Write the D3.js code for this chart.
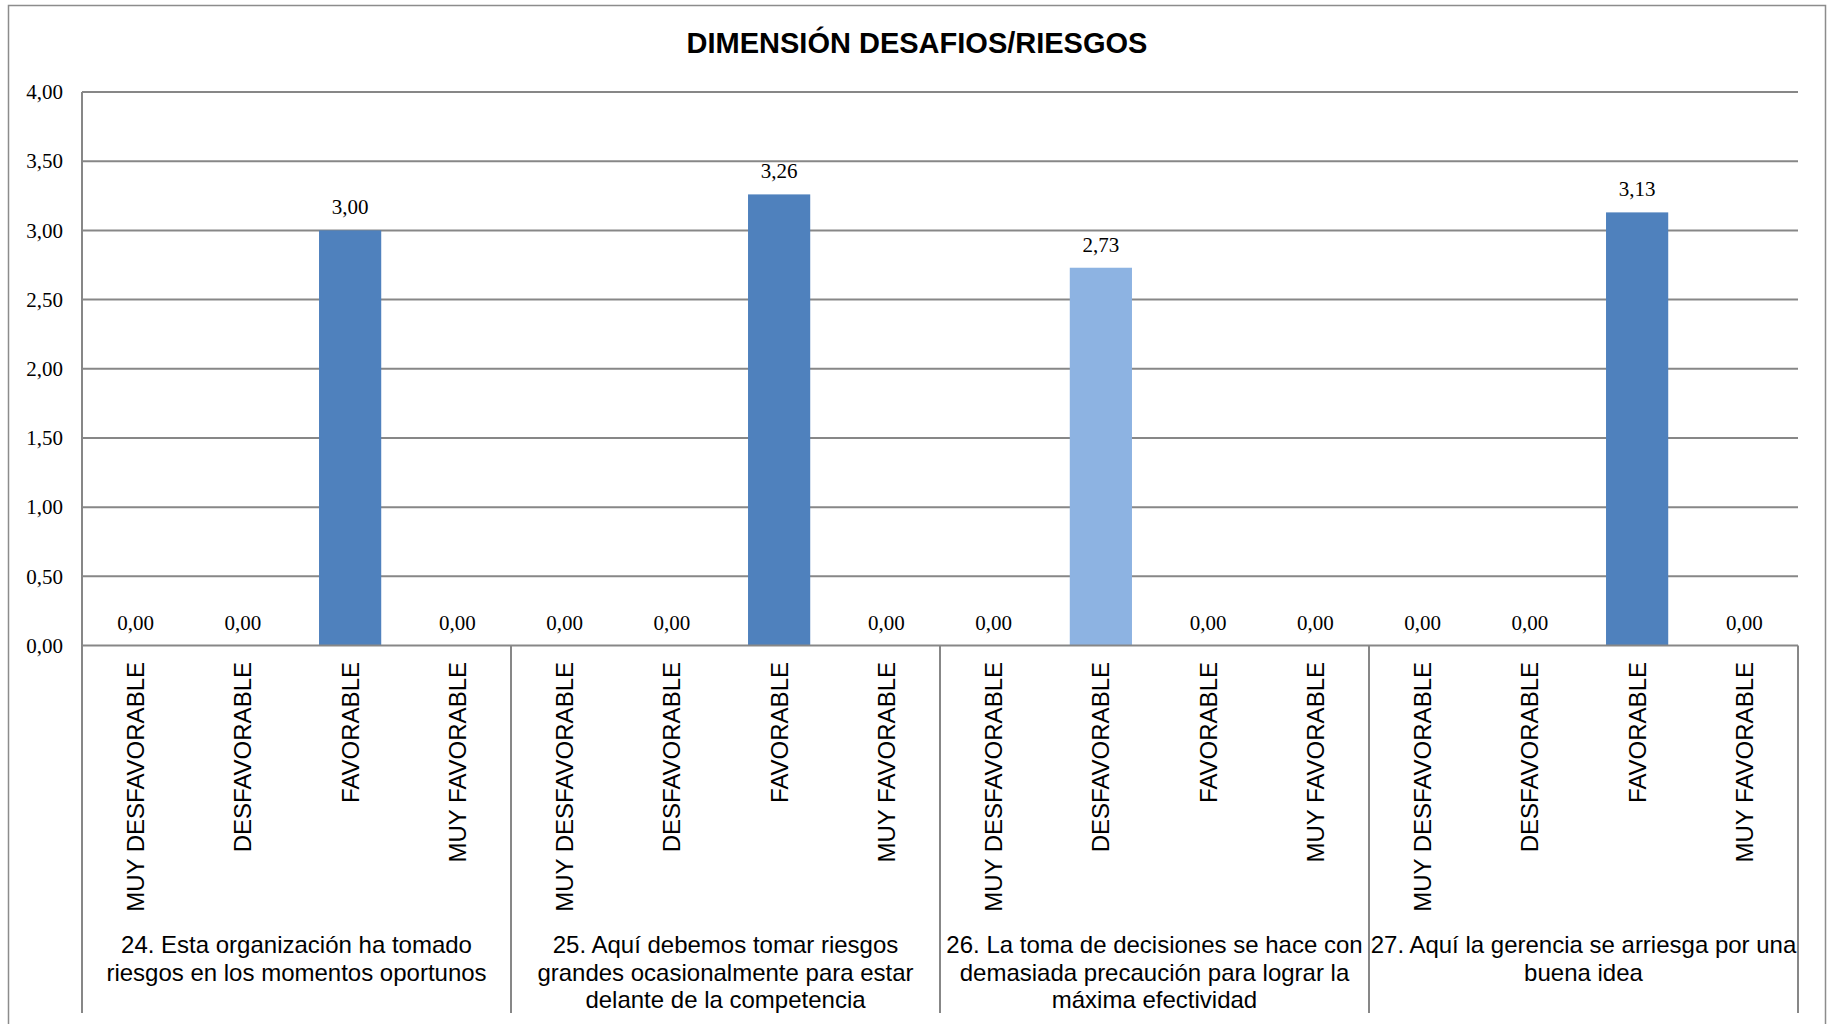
<!DOCTYPE html>
<html>
<head>
<meta charset="utf-8">
<script src="https://cdn.jsdelivr.net/npm/d3@7"></script>
<style>
  html, body { margin: 0; padding: 0; background: #fff; }
  svg { display: block; }
</style>
</head>
<body>
<div id="chart"></div>
<script>
// chart data
const chartTitle = 'DIMENSIÓN DESAFIOS/RIESGOS';
const ratings = ['MUY DESFAVORABLE', 'DESFAVORABLE', 'FAVORABLE', 'MUY FAVORABLE'];
const questions = [
  ['24. Esta organización ha tomado', 'riesgos en los momentos oportunos'],
  ['25. Aquí debemos tomar riesgos', 'grandes ocasionalmente para estar', 'delante de la competencia'],
  ['26. La toma de decisiones se hace con', 'demasiada precaución para lograr la', 'máxima efectividad'],
  ['27. Aquí la gerencia se arriesga por una', 'buena idea']
];
const values24 = [0, 0, 3.00, 0];
const values25 = [0, 0, 3.26, 0];
const values26 = [0, 2.73, 0, 0];
const values27 = [0, 0, 3.13, 0];
const yTicks = [0, 0.5, 1, 1.5, 2, 2.5, 3, 3.5, 4];

// colour per rating column
const ratingColors = ['#4F81BD', '#8DB3E2', '#4F81BD', '#4F81BD'];

const config = {
  width: 1827,
  height: 1024,
  plotLeft: 82,
  plotRight: 1798,
  plotTop: 92,
  plotBottom: 645.5,
  dividerBottom: 1013,
  grid: '#878787'
};

// flatten into one row per bar
const allValues = [values24, values25, values26, values27];
const rows = [];
allValues.forEach((vals, g) => {
  vals.forEach((v, i) => {
    rows.push({ key: `${g}-${i}`, group: g, rating: ratings[i], idx: i, value: v });
  });
});

const svg = d3.select('#chart')
  .append('svg')
  .attr('width', config.width)
  .attr('height', config.height);

// outer frame (bottom is cut off in the original)
svg.append('path')
  .attr('d', `M8.5,${config.height} V5.5 H1825.5 V${config.height}`)
  .attr('fill', 'none')
  .attr('stroke', '#8c8c8c')
  .attr('stroke-width', 1.5);

svg.append('text')
  .attr('x', 917)
  .attr('y', 53)
  .attr('text-anchor', 'middle')
  .style('font-family', '"Liberation Sans", Arial, sans-serif')
  .style('font-size', '29px')
  .style('font-weight', 'bold')
  .text(chartTitle);

const x = d3.scaleBand()
  .domain(rows.map(d => d.key))
  .range([config.plotLeft, config.plotRight])
  .paddingInner(0.42)
  .paddingOuter(0.21);

const y = d3.scaleLinear()
  .domain([0, 4])
  .range([config.plotBottom, config.plotTop]);

const locale = d3.formatLocale({ decimal: ',', thousands: '.', grouping: [3], currency: ['', ''] });
const fmt = locale.format('.2f');

// gridlines
svg.selectAll('.grid')
  .data(yTicks.filter(t => t > 0))
  .join('line')
  .attr('class', 'grid')
  .attr('x1', config.plotLeft)
  .attr('x2', config.plotRight)
  .attr('y1', d => y(d))
  .attr('y2', d => y(d))
  .attr('stroke', config.grid)
  .attr('stroke-width', 2);

// y axis
const yAxis = svg.append('g')
  .attr('transform', `translate(${config.plotLeft},0)`)
  .call(d3.axisLeft(y).tickValues(yTicks).tickSize(0).tickPadding(19).tickFormat(fmt));
yAxis.select('.domain').remove();
yAxis.selectAll('text')
  .style('font-family', '"Liberation Serif", "Times New Roman", serif')
  .style('font-size', '21px')
  .attr('fill', '#000');

// bars
svg.selectAll('.bar')
  .data(rows)
  .join('rect')
  .attr('class', 'bar')
  .attr('x', d => x(d.key))
  .attr('width', x.bandwidth())
  .attr('y', d => y(d.value))
  .attr('height', d => y(0) - y(d.value))
  .attr('fill', d => ratingColors[d.idx]);

// value labels
svg.selectAll('.val')
  .data(rows)
  .join('text')
  .attr('class', 'val')
  .attr('x', d => x(d.key) + x.bandwidth() / 2)
  .attr('y', d => y(d.value) - 16)
  .attr('text-anchor', 'middle')
  .style('font-family', '"Liberation Serif", "Times New Roman", serif')
  .style('font-size', '21px')
  .text(d => fmt(d.value));

// x axis line and group dividers
svg.append('line')
  .attr('x1', config.plotLeft)
  .attr('x2', config.plotRight)
  .attr('y1', y(0))
  .attr('y2', y(0))
  .attr('stroke', config.grid)
  .attr('stroke-width', 2);

const step = x.step();
const groupEdges = d3.range(questions.length + 1).map(g => config.plotLeft + g * 4 * step);

svg.append('line')
  .attr('x1', config.plotLeft)
  .attr('x2', config.plotLeft)
  .attr('y1', config.plotTop)
  .attr('y2', config.dividerBottom)
  .attr('stroke', config.grid)
  .attr('stroke-width', 2);

svg.selectAll('.divider')
  .data(groupEdges.slice(1))
  .join('line')
  .attr('class', 'divider')
  .attr('x1', d => d)
  .attr('x2', d => d)
  .attr('y1', y(0))
  .attr('y2', config.dividerBottom)
  .attr('stroke', config.grid)
  .attr('stroke-width', 2);

// rotated rating labels
svg.selectAll('.cat')
  .data(rows)
  .join('text')
  .attr('class', 'cat')
  .attr('transform', d => `translate(${x(d.key) + x.bandwidth() / 2},662) rotate(-90)`)
  .attr('text-anchor', 'end')
  .attr('dy', '0.35em')
  .style('font-family', '"Liberation Sans", Arial, sans-serif')
  .style('font-size', '24px')
  .text(d => d.rating);

// question labels
const qLabels = svg.selectAll('.question')
  .data(questions)
  .join('text')
  .attr('class', 'question')
  .attr('text-anchor', 'middle')
  .style('font-family', '"Liberation Sans", Arial, sans-serif')
  .style('font-size', '24px');

qLabels.selectAll('tspan')
  .data((d, g) => d.map(line => ({ line, g })))
  .join('tspan')
  .attr('x', d => (groupEdges[d.g] + groupEdges[d.g + 1]) / 2)
  .attr('y', (d, i) => 953 + i * 27.5)
  .text(d => d.line);
</script>
</body>
</html>
